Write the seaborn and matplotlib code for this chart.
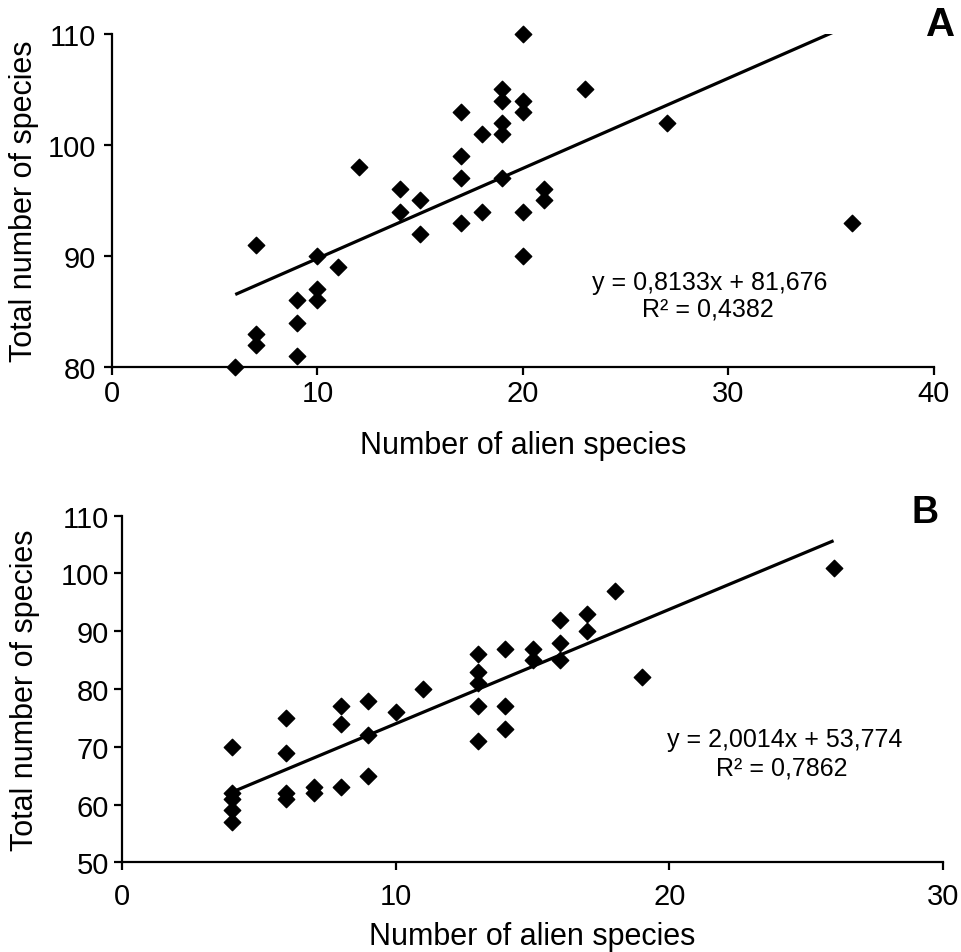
import pandas as pd
import seaborn as sns
import matplotlib.pyplot as plt

# Panel A: alien species vs total species
alien_a = [6, 7, 7, 7, 9, 9, 9, 10, 10, 10, 11, 12, 14, 14, 15, 15, 17, 17, 17, 17,
           18, 18, 19, 19, 19, 19, 19, 20, 20, 20, 20, 20, 21, 21, 23, 27, 36]
total_a = [80, 91, 83, 82, 86, 84, 81, 90, 87, 86, 89, 98, 96, 94, 95, 92, 103, 99, 97, 93,
           101, 94, 105, 104, 102, 101, 97, 110, 104, 103, 94, 90, 96, 95, 105, 102, 93]

# Panel B
alien_b = [4, 4, 4, 4, 4, 6, 6, 6, 6, 7, 7, 8, 8, 8, 9, 9, 9, 10, 11, 13, 13, 13, 13, 13,
           14, 14, 14, 15, 15, 16, 16, 16, 17, 17, 18, 19, 26]
total_b = [70, 62, 61, 59, 57, 75, 69, 62, 61, 63, 62, 77, 74, 63, 78, 72, 65, 76, 80, 86, 83, 81, 77, 71,
           87, 77, 73, 87, 85, 92, 88, 85, 93, 90, 97, 82, 101]

eq_a = ["y = 0,8133x + 81,676", "R² = 0,4382"]
eq_b = ["y = 2,0014x + 53,774", "R² = 0,7862"]

df_a = pd.DataFrame({'alien': alien_a, 'total': total_a})
df_b = pd.DataFrame({'alien': alien_b, 'total': total_b})

sns.set_style('ticks', {'text.color': 'black', 'axes.labelcolor': 'black',
                        'xtick.color': 'black', 'ytick.color': 'black',
                        'axes.edgecolor': 'black'})
plt.rcParams['font.family'] = ['Liberation Sans', 'DejaVu Sans']

fig = plt.figure(figsize=(9.61, 9.53), dpi=100)
ax_a = fig.add_axes([0.1165, 0.6139, 0.8554, 0.3494])
ax_b = fig.add_axes([0.127, 0.0941, 0.8543, 0.3637])

for ax, df in [(ax_a, df_a), (ax_b, df_b)]:
    sns.regplot(data=df, x='alien', y='total', ax=ax, ci=None, color='black', marker='D',
                scatter_kws={'s': 70, 'alpha': 1, 'clip_on': False, 'zorder': 3},
                line_kws={'lw': 2.3, 'solid_capstyle': 'butt'})
    sns.despine(ax=ax)
    for s in ['left', 'bottom']:
        ax.spines[s].set_linewidth(1.6)
    ax.tick_params(axis='both', labelsize=21, width=1.6, length=6)
    ax.set_xlabel('Number of alien species', fontsize=22)
    ax.set_ylabel('Total number of species', fontsize=22)

ax_a.set_xlim(0, 40)
ax_a.set_ylim(80, 110)
ax_a.set_xticks([0, 10, 20, 30, 40])
ax_a.set_yticks([80, 90, 100, 110])
ax_a.tick_params(axis='x', pad=3)
ax_a.tick_params(axis='y', pad=5.5)
ax_a.xaxis.set_label_coords(0.5, -0.19)
ax_a.yaxis.set_label_coords(-0.089, 0.5)

ax_b.set_xlim(0, 30)
ax_b.set_ylim(50, 110)
ax_b.set_xticks([0, 10, 20, 30])
ax_b.set_yticks(range(50, 111, 10))
ax_b.tick_params(axis='x', pad=8)
ax_b.xaxis.set_label_coords(0.5, -0.168)
ax_b.yaxis.set_label_coords(-0.100, 0.5)

# trendline equations, one text per line
ax_a.text(29.1, 87.0, eq_a[0], ha='center', va='baseline', fontsize=18)
ax_a.text(29.0, 84.6, eq_a[1], ha='center', va='baseline', fontsize=18)
ax_b.text(24.2, 70.1, eq_b[0], ha='center', va='baseline', fontsize=18)
ax_b.text(24.1, 65.2, eq_b[1], ha='center', va='baseline', fontsize=18)

fig.text(941 / 961, 1 - 25 / 953, 'A', fontsize=29, fontweight='bold', ha='center', va='center')
fig.text(925 / 961, 1 - 513 / 953, 'B', fontsize=27, fontweight='bold', ha='center', va='center')

fig.savefig('out.png', dpi=100)
